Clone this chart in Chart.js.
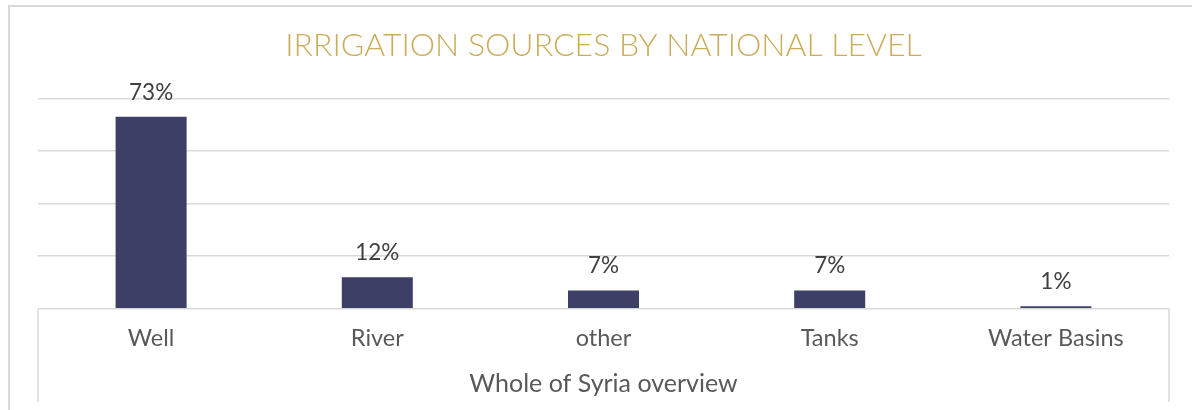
<!DOCTYPE html>
<html>
<head>
<meta charset="utf-8">
<script src="https://cdn.jsdelivr.net/npm/chart.js@4"></script>
<style>
  body { margin: 0; background: #fff; overflow: hidden; }
  .frame {
    position: absolute; left: 8px; top: 5px;
    width: 1182px; height: 403px;
    border: 2px solid #d9d9d9;
  }
  .frame canvas { display: block; }
</style>
</head>
<body>
<div class="frame"><canvas id="graph" width="1182" height="403"></canvas></div>
<script>
const categories = ['Well', 'River', 'other', 'Tanks', 'Water Basins'];
const shares = [73, 12, 7, 7, 1];
const yTicks = [0, 20, 40, 60, 80];

const textColor = '#595959';
const fontFamily = 'Lato, "Open Sans", sans-serif';

// percent labels above each bar
const barLabels = {
    id: 'barLabels',
    afterDatasetsDraw(chart) {
        const ctx = chart.ctx;
        const meta = chart.getDatasetMeta(0);
        ctx.save();
        ctx.font = '22.5px ' + fontFamily;
        ctx.fillStyle = '#404040';
        ctx.textAlign = 'center';
        ctx.textBaseline = 'alphabetic';
        meta.data.forEach((bar, i) => {
            ctx.fillText(shares[i] + '%', bar.x, bar.y - 17);
        });
        ctx.restore();
    }
};

// outer edges of the category axis box
const axisBox = {
    id: 'axisBox',
    afterDraw(chart) {
        const ctx = chart.ctx;
        const x = chart.scales.x;
        const top = chart.chartArea.bottom;
        ctx.save();
        ctx.strokeStyle = '#d9d9d9';
        ctx.lineWidth = 1.5;
        ctx.beginPath();
        ctx.moveTo(x.left, top);
        ctx.lineTo(x.left, chart.height - 8);
        ctx.moveTo(x.right, top);
        ctx.lineTo(x.right, chart.height - 8);
        ctx.stroke();
        ctx.restore();
    }
};

const graph = document.getElementById('graph').getContext('2d');

new Chart(graph, {
    type: 'bar',
    data: {
        labels: categories,
        datasets: [{
            data: shares,
            backgroundColor: '#3d3f66',
            categoryPercentage: 1,
            barPercentage: 0.314
        }]
    },
    options: {
        responsive: false,
        animation: false,
        layout: { padding: { left: 28, right: 23, top: 0, bottom: 8 } },
        plugins: {
            legend: { display: false },
            tooltip: { enabled: false },
            title: {
                display: true,
                text: 'IRRIGATION SOURCES BY NATIONAL LEVEL',
                color: '#c9ad5b',
                font: { family: fontFamily, size: 32, weight: '300' },
                padding: { top: 19, bottom: 34 }
            }
        },
        scales: {
            x: {
                grid: { display: false, drawTicks: false },
                border: { display: false },
                ticks: {
                    color: textColor,
                    font: { family: fontFamily, size: 23.5 },
                    padding: 16,
                    maxRotation: 0
                },
                title: {
                    display: true,
                    text: 'Whole of Syria overview',
                    color: textColor,
                    font: { family: fontFamily, size: 25 },
                    padding: { top: 0, bottom: 3 }
                }
            },
            y: {
                min: yTicks[0],
                max: yTicks[yTicks.length - 1],
                afterBuildTicks(scale) {
                    scale.ticks = yTicks.map(v => ({ value: v }));
                },
                ticks: { display: false },
                grid: { color: '#d9d9d9', lineWidth: 1.5, drawTicks: false },
                border: { display: false }
            }
        }
    },
    plugins: [barLabels, axisBox]
});
</script>
</body>
</html>
